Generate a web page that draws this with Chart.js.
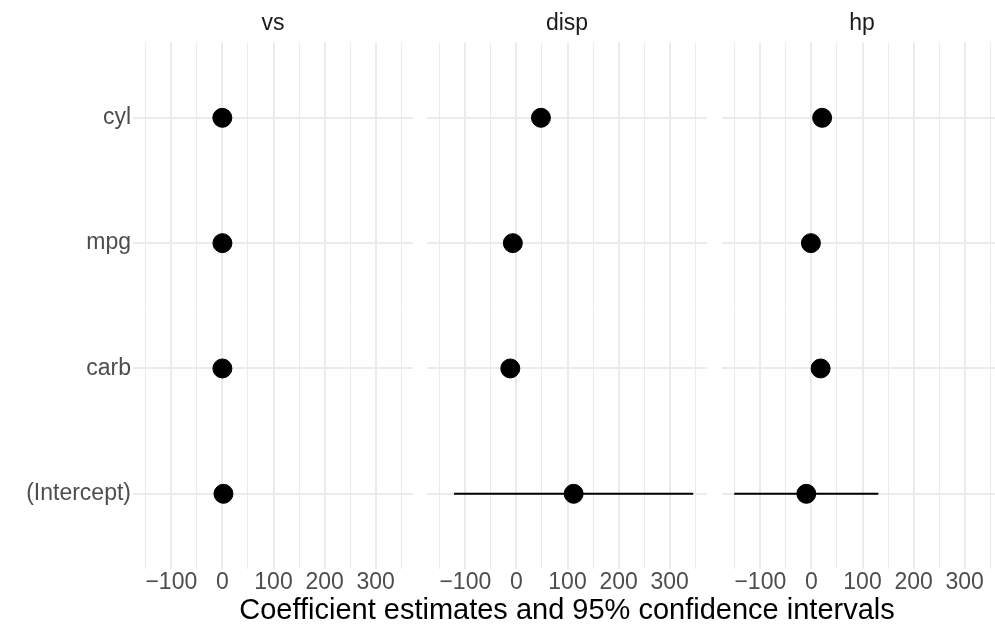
<!DOCTYPE html>
<html>
<head>
<meta charset="utf-8">
<script src="https://cdn.jsdelivr.net/npm/chart.js@4"></script>
<style>
    body { margin: 0; width: 995px; height: 639px; overflow: hidden; background: #fff; font-family: "Liberation Sans", Arial, sans-serif; position: relative; }
    canvas { position: absolute; top: 0; }
    #xTitle { position: absolute; top: 593px; left: 132px; width: 870px; text-align: center; font-size: 29px; color: #000; white-space: nowrap; }
</style>
</head>
<body>
<canvas id="panel0"></canvas>
<canvas id="panel1"></canvas>
<canvas id="panel2"></canvas>
<div id="xTitle">Coefficient estimates and 95% confidence intervals</div>
<script>
// terms from top to bottom, one model per panel
const terms = ['cyl', 'mpg', 'carb', '(Intercept)'];
const panelNames = ['vs', 'disp', 'hp'];
const xTicks = [-150, -100, -50, 0, 50, 100, 150, 200, 250, 300, 350];

const vsEst = [-0.2, 0.0, -0.1, 2.0];
const vsLow = [-0.4, -0.1, -0.3, 0.5];
const vsHigh = [0.0, 0.1, 0.1, 3.5];

const dispEst = [48, -7, -12, 112];
const dispLow = [34, -14, -26, -122];
const dispHigh = [62, 0, 2, 346];

const hpEst = [21, -1, 18, -10];
const hpLow = [9, -6, 8, -151];
const hpHigh = [33, 4, 28, 131];

const estimates = [vsEst, dispEst, hpEst];
const lows = [vsLow, dispLow, hpLow];
const highs = [vsHigh, dispHigh, hpHigh];

const gridColor = '#EBEBEB';
const fontFamily = '"Liberation Sans", Arial, sans-serif';
const yPos = i => terms.length - i; // cyl on top

const makePanel = (idx, left, width, yAxisWidth) => {
    const canvas = document.getElementById('panel' + idx);
    canvas.width = width;
    canvas.height = 600;
    canvas.style.left = left + 'px';

    const points = estimates[idx].map((v, i) => ({ x: v, y: yPos(i) }));
    const intervals = terms.map((t, i) => ({
        type: 'line',
        data: [{ x: lows[idx][i], y: yPos(i) }, { x: highs[idx][i], y: yPos(i) }],
        borderColor: '#000',
        borderWidth: 2,
        pointRadius: 0,
        showLine: true,
        order: 1
    }));

    new Chart(canvas.getContext('2d'), {
        type: 'scatter',
        data: {
            datasets: [{
                data: points,
                backgroundColor: '#000',
                borderColor: '#000',
                pointRadius: 9.5,
                order: 0
            }, ...intervals]
        },
        options: {
            responsive: false,
            animation: false,
            layout: { padding: 0, autoPadding: false },
            plugins: {
                legend: { display: false },
                tooltip: { enabled: false },
                title: {
                    display: true,
                    text: panelNames[idx],
                    fullSize: false,
                    color: '#1A1A1A',
                    font: { family: fontFamily, size: 23, weight: 'normal' },
                    padding: { top: 10, bottom: 5 }
                }
            },
            scales: {
                x: {
                    type: 'linear',
                    min: -175,
                    max: 373,
                    afterBuildTicks: axis => { axis.ticks = xTicks.map(v => ({ value: v })); },
                    afterFit: axis => {
                        axis.height = 31;
                        axis.paddingLeft = 0;
                        axis.paddingRight = 0;
                    },
                    grid: {
                        color: gridColor,
                        lineWidth: ctx => (ctx.tick && ctx.tick.value % 100 === 0 ? 2 : 1),
                        drawTicks: false
                    },
                    border: { display: false },
                    ticks: {
                        autoSkip: false,
                        maxRotation: 0,
                        padding: 0,
                        color: '#4D4D4D',
                        font: { family: fontFamily, size: 23 },
                        callback: v => (v % 100 === 0 ? String(v).replace('-', '\u2212') : '')
                    }
                },
                y: {
                    type: 'linear',
                    min: 0.4,
                    max: 4.6,
                    afterBuildTicks: axis => { axis.ticks = terms.map((t, i) => ({ value: yPos(i) })); },
                    afterFit: axis => {
                        axis.width = yAxisWidth;
                        axis.paddingTop = 0;
                        axis.paddingBottom = 0;
                    },
                    grid: { color: gridColor, lineWidth: 2, drawTicks: false },
                    border: { display: false },
                    ticks: {
                        display: yAxisWidth > 0,
                        padding: 2,
                        color: '#4D4D4D',
                        font: { family: fontFamily, size: 23 },
                        callback: v => terms[terms.length - v]
                    }
                }
            }
        }
    });
};

makePanel(0, 0, 413, 133);
makePanel(1, 427, 280, 0);
makePanel(2, 722, 280, 0);
</script>
</body>
</html>
